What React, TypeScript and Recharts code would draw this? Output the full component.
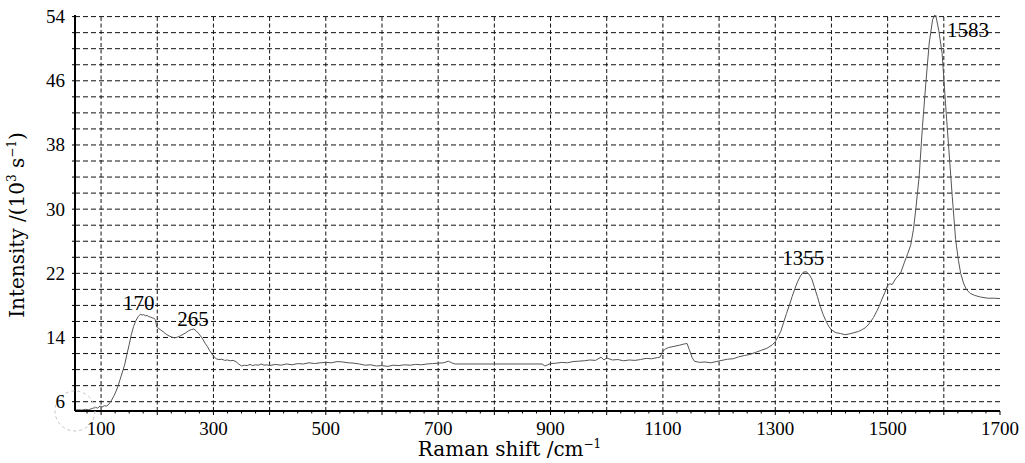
import React from 'react';
import { LineChart, Line, XAxis, YAxis, ReferenceLine, ReferenceDot } from 'recharts';

const ramanShift = [
  54, 60, 66, 72, 78, 84, 90, 94, 98, 102, 106, 110, 114, 118, 122, 126, 130, 134, 138, 142,
  146, 150, 154, 158, 162, 166, 170, 173, 176, 179, 182, 185, 188, 191, 194, 197, 199, 203, 207, 211,
  216, 221, 226, 231, 236, 241, 246, 251, 256, 261, 265, 269, 273, 277, 281, 285, 289, 293, 297, 301,
  305, 310, 315, 320, 325, 330, 335, 340, 345, 350, 355, 360, 365, 370, 375, 380, 385, 390, 395, 400,
  410, 420, 430, 440, 450, 460, 470, 480, 490, 500, 510, 520, 530, 540, 550, 560, 570, 580, 590, 600,
  610, 620, 630, 640, 650, 660, 670, 680, 690, 700, 710, 718, 724, 730, 885, 890, 895, 900, 910, 920,
  930, 940, 950, 960, 970, 980, 990, 995, 1000, 1010, 1020, 1030, 1040, 1050, 1060, 1070, 1080, 1090, 1095, 1100,
  1105, 1110, 1120, 1130, 1138, 1143, 1147, 1152, 1156, 1165, 1175, 1185, 1195, 1205, 1215, 1225, 1235, 1245, 1255, 1265,
  1275, 1285, 1295, 1300, 1305, 1310, 1315, 1320, 1325, 1330, 1335, 1340, 1345, 1350, 1355, 1360, 1365, 1370, 1375, 1380,
  1385, 1390, 1395, 1400, 1408, 1416, 1424, 1432, 1440, 1448, 1455, 1460, 1465, 1470, 1475, 1480, 1485, 1490, 1495, 1500,
  1504, 1508, 1515, 1523, 1530, 1536, 1541, 1546, 1550, 1556, 1562, 1568, 1574, 1580, 1585, 1591, 1597, 1603, 1609, 1615,
  1621, 1626, 1630, 1635, 1640, 1647, 1655, 1665, 1678, 1690, 1700,
];

const intensity = [
  4.95, 5.0, 4.95, 5.05, 5.0, 5.15, 5.3, 5.2, 5.45, 5.35, 5.5, 5.45, 5.7, 6.1, 6.6, 7.2, 7.9, 8.8, 9.7, 10.6,
  11.9, 13.1, 14.4, 15.4, 16.1, 16.6, 16.9, 16.8, 16.85, 16.7, 16.75, 16.6, 16.55, 16.45, 16.4, 16.2, 15.3, 15.1, 14.9, 14.7,
  14.4, 14.2, 14.05, 13.95, 14.05, 14.2, 14.4, 14.6, 14.85, 15.0, 15.05, 14.85, 14.55, 14.2, 13.8, 13.3, 12.9, 12.4, 12.0, 11.6,
  11.35, 11.25, 11.3, 11.15, 11.2, 11.1, 11.15, 11.0, 10.7, 10.45, 10.55, 10.5, 10.65, 10.5, 10.6, 10.55, 10.7, 10.55, 10.6, 10.5,
  10.65, 10.55, 10.7, 10.6, 10.75, 10.7, 10.85, 10.75, 10.85, 10.9, 10.85, 11.0, 10.95, 10.85, 10.8, 10.7, 10.55, 10.6, 10.45, 10.5,
  10.4, 10.55, 10.5, 10.6, 10.55, 10.65, 10.6, 10.7, 10.75, 10.8, 10.85, 11.05, 10.85, 10.7, 10.7, 10.45, 10.6, 10.75, 10.8, 10.9,
  10.85, 11.0, 11.05, 11.1, 11.2, 11.15, 11.55, 11.2, 11.45, 11.2, 11.25, 11.1, 11.2, 11.15, 11.25, 11.4, 11.35, 11.5, 11.55, 12.3,
  12.6, 12.75, 12.9, 13.05, 13.2, 13.25, 12.5, 11.5, 11.05, 10.9, 10.95, 10.85, 11.0, 11.15, 11.3, 11.35, 11.6, 11.75, 11.9, 12.15,
  12.4, 12.65, 13.1, 13.5, 14.1, 14.8, 15.9, 17.0, 18.0, 19.1, 20.1, 21.0, 21.7, 22.15, 22.2, 21.9, 21.3, 20.2, 19.1, 17.9,
  16.9, 16.1, 15.4, 14.95, 14.6, 14.5, 14.35, 14.45, 14.6, 14.75, 15.0, 15.2, 15.55, 16.0, 16.5, 17.2, 17.9, 18.8, 19.6, 20.5,
  20.7, 20.6, 21.4, 22.0, 23.4, 24.5, 25.5, 27.5, 29.9, 34.0, 40.3, 45.7, 50.7, 53.6, 54.4, 52.3, 49.4, 43.2, 37.4, 31.6,
  26.2, 23.6, 22.0, 20.8, 20.0, 19.5, 19.25, 19.05, 18.9, 18.9, 18.85,
];

const xTickLabels = [100, 300, 500, 700, 900, 1100, 1300, 1500, 1700];
const yTickLabels = [6, 14, 22, 30, 38, 46, 54];
const peakLabels = ['170', '265', '1355', '1583'];
const peakLabelX = [167, 263.5, 1350, 1643];
const peakLabelY = [18.3, 16.35, 24.0, 52.35];

const X_DOMAIN: [number, number] = [53.6, 1700];
const Y_DOMAIN: [number, number] = [4.84, 54.2];

const xMinorTicks = Array.from({ length: 66 }, (_, i) => 75 + i * 25);
const xGrid = Array.from({ length: 16 }, (_, i) => 100 + i * 100);
const yTicks = Array.from({ length: 25 }, (_, i) => 6 + i * 2);

const data = ramanShift.map((x, i) => ({ x, y: intensity[i] }));

const NUM_FONT = 'Liberation Serif';
const TITLE_FONT = 'DejaVu Serif';

const XTick = (props: any) => {
  const { x, y, payload } = props;
  const v = payload.value;
  const major = v % 100 === 0;
  const labeled = xTickLabels.includes(v);
  return (
    <g>
      <line x1={x} x2={x} y1={y} y2={y + (major ? 4 : 2.5)} stroke="#000" strokeWidth={1} />
      {labeled && (
        <text x={x} y={y + 24} textAnchor="middle" fontFamily={NUM_FONT} fontSize={19} fill="#000">
          {v}
        </text>
      )}
    </g>
  );
};

const YTick = (props: any) => {
  const { x, y, payload } = props;
  const v = payload.value;
  const labeled = yTickLabels.includes(v);
  return (
    <g>
      <line x1={x} x2={x - 3} y1={y} y2={y} stroke="#000" strokeWidth={1} />
      {labeled && (
        <text x={x - 10} y={y + 6.5} textAnchor="end" fontFamily={NUM_FONT} fontSize={19} fill="#000">
          {v}
        </text>
      )}
    </g>
  );
};

const XTitle = (props: any) => {
  const vb = props.viewBox || {};
  const cx = vb.x + vb.width / 2 - 28;
  return (
    <text x={cx} y={vb.y + 45} textAnchor="middle" fontFamily={TITLE_FONT} fontSize={20} fill="#000">
      Raman shift /cm
      <tspan dy={-8} fontSize={12}>−1</tspan>
    </text>
  );
};

const YTitle = (props: any) => {
  const vb = props.viewBox || {};
  const cy = vb.y + vb.height / 2 + 12;
  const tx = 24;
  return (
    <text
      x={tx}
      y={cy}
      transform={`rotate(-90, ${tx}, ${cy})`}
      textAnchor="middle"
      fontFamily={TITLE_FONT}
      fontSize={20}
      fill="#000"
    >
      Intensity /(10
      <tspan dy={-8} fontSize={12}>3</tspan>
      <tspan dy={8}> s</tspan>
      <tspan dy={-8} fontSize={12}>−1</tspan>
      <tspan dy={8}>)</tspan>
    </text>
  );
};

export default function App() {
  return (
    <div style={{ position: 'absolute', left: 0, top: 0, background: '#fff' }}>
      <LineChart width={1025} height={463} data={data} margin={{ top: 15, right: 25, bottom: 0, left: 0 }}>
        <XAxis
          dataKey="x"
          type="number"
          domain={X_DOMAIN}
          allowDataOverflow
          ticks={xMinorTicks}
          interval={0}
          tick={XTick}
          tickLine={false}
          tickSize={0}
          tickMargin={0}
          height={52}
          axisLine={{ stroke: '#000', strokeWidth: 2 }}
          label={{ content: XTitle }}
        />
        <YAxis
          type="number"
          domain={Y_DOMAIN}
          allowDataOverflow
          ticks={yTicks}
          interval={0}
          tick={YTick}
          tickLine={false}
          tickSize={0}
          tickMargin={0}
          width={75}
          axisLine={{ stroke: '#000', strokeWidth: 2 }}
          label={{ content: YTitle }}
        />
        <XAxis
          xAxisId="top"
          orientation="top"
          type="number"
          dataKey="x"
          domain={X_DOMAIN}
          allowDataOverflow
          height={0}
          tick={false}
          tickLine={false}
          axisLine={{ stroke: '#000', strokeWidth: 1.3 }}
        />
        <YAxis
          yAxisId="right"
          orientation="right"
          type="number"
          domain={Y_DOMAIN}
          allowDataOverflow
          width={0}
          tick={false}
          tickLine={false}
          axisLine={{ stroke: '#000', strokeWidth: 1.3 }}
        />
        {yTicks.map((v) => (
          <ReferenceLine key={'h' + v} y={v} stroke="#111" strokeWidth={1} strokeDasharray="5 3" />
        ))}
        {xGrid.map((v) => (
          <ReferenceLine key={'v' + v} x={v} stroke="#111" strokeWidth={1} strokeDasharray="4 2.5" />
        ))}
        <Line
          type="linear"
          dataKey="y"
          stroke="#555"
          strokeWidth={1}
          dot={false}
          isAnimationActive={false}
        />
        <ReferenceDot
          x={X_DOMAIN[0]}
          y={Y_DOMAIN[0]}
          r={20}
          fill="none"
          stroke="#c4c4c4"
          strokeWidth={1}
          strokeDasharray="3 3"
          ifOverflow="visible"
        />
        {peakLabels.map((t, i) => (
          <ReferenceDot
            key={t}
            x={peakLabelX[i]}
            y={peakLabelY[i]}
            r={1}
            fill="none"
            stroke="none"
            ifOverflow="visible"
            label={{ value: t, position: 'center', fontFamily: NUM_FONT, fontSize: 21, fill: '#000' }}
          />
        ))}
      </LineChart>
    </div>
  );
}
